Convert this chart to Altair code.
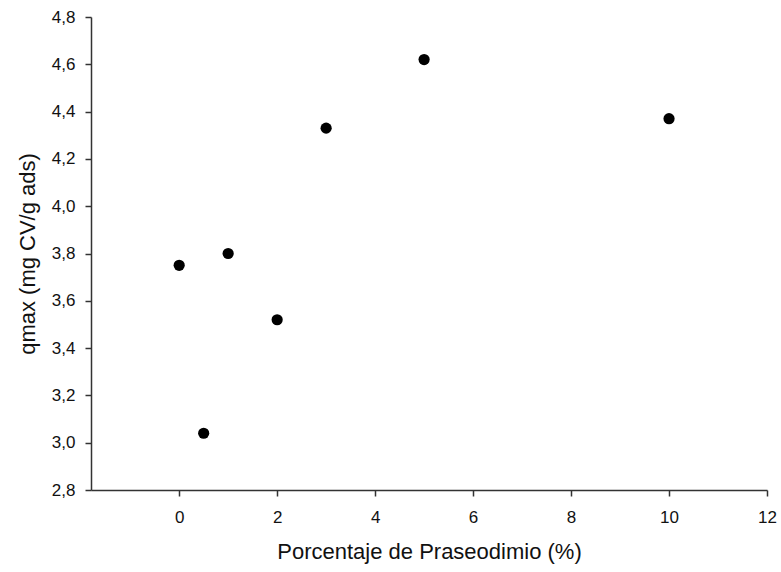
import altair as alt
import pandas as pd

pr_pct = [0, 0.5, 1, 2, 3, 5, 10]
qmax = [3.75, 3.04, 3.80, 3.52, 4.33, 4.62, 4.37]

df = pd.DataFrame({"pr": pr_pct, "q": qmax})

x_ticks = [0, 2, 4, 6, 8, 10, 12]
y_ticks = [2.8, 3.0, 3.2, 3.4, 3.6, 3.8, 4.0, 4.2, 4.4, 4.6, 4.8]

font = "Liberation Sans"

chart = alt.Chart(df).mark_circle(size=125, color="black", opacity=1).encode(
    x=alt.X("pr:Q", scale=alt.Scale(domain=[-1.8, 12], nice=False, zero=False),
            axis=alt.Axis(values=x_ticks, title="Porcentaje de Praseodimio (%)",
                          format=".0f", grid=False, tickSize=6, labelPadding=13,
                          titlePadding=16)),
    y=alt.Y("q:Q", scale=alt.Scale(domain=[2.8, 4.8], nice=False, zero=False),
            axis=alt.Axis(values=y_ticks, title="qmax (mg CV/g ads)",
                          labelExpr="replace(format(datum.value, '.1f'), '.', ',')",
                          grid=False, tickSize=6, labelPadding=10, titlePadding=12)),
).properties(
    width=676, height=473,
    autosize=alt.AutoSizeParams(type="none"),
    padding={"left": 91, "top": 17, "right": 14, "bottom": 82},
).configure_view(stroke=None).configure_axis(
    labelFont=font, titleFont=font, labelFontSize=17, titleFontSize=22,
    labelColor="#111", titleColor="#111", titleFontWeight="normal",
    domainColor="#333", tickColor="#333", domainWidth=1.5, tickWidth=1.5,
    labelFlush=False, labelOverlap=False,
)

chart.save("out.html", embed_options={"renderer": "svg", "actions": False})
